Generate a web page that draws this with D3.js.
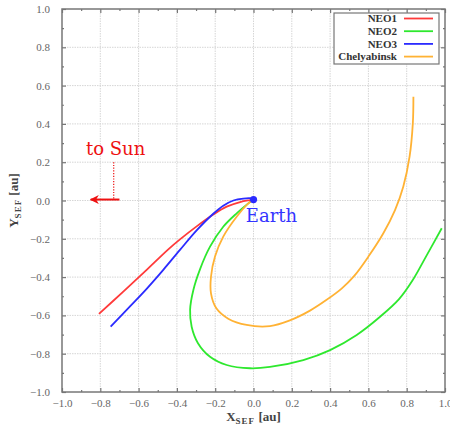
<!DOCTYPE html>
<html>
<head>
<meta charset="utf-8">
<script src="https://cdn.jsdelivr.net/npm/d3@7"></script>
<style>
  body { margin: 0; background: #fff; }
  svg { display: block; }
</style>
</head>
<body>
<div id="chart"></div>
<script>
// series, in au (Sun-Earth fixed frame)
const seriesNames = ['NEO1', 'NEO2', 'NEO3', 'Chelyabinsk'];
const seriesColors = ['#ff3a3a', '#2ee82e', '#2b2bff', '#ffb234'];

const neo1 = [[-0.807,-0.592],[-0.68,-0.476],[-0.558,-0.362],[-0.445,-0.255],[-0.384,-0.203],
  [-0.297,-0.135],[-0.21,-0.073],[-0.14,-0.032],[-0.07,-0.008],[-0.018,0.002],[0,0.005]];
const neo2 = [[0,0.005],[-0.027,-0.015],[-0.088,-0.067],[-0.158,-0.137],[-0.227,-0.241],[-0.279,-0.358],
  [-0.314,-0.467],[-0.331,-0.57],[-0.323,-0.659],[-0.29,-0.745],[-0.227,-0.816],[-0.14,-0.859],
  [-0.018,-0.876],[0.086,-0.869],[0.26,-0.833],[0.4,-0.781],[0.539,-0.702],[0.661,-0.607],
  [0.76,-0.515],[0.83,-0.418],[0.905,-0.285],[0.983,-0.145]];
const neo3 = [[-0.746,-0.659],[-0.645,-0.553],[-0.558,-0.461],[-0.471,-0.362],[-0.384,-0.258],
  [-0.297,-0.156],[-0.21,-0.069],[-0.158,-0.027],[-0.105,0.0],[-0.053,0.01],[-0.01,0.011],[0,0.007]];
const chelyabinsk = [[0,0.005],[-0.027,-0.015],[-0.088,-0.085],[-0.158,-0.189],[-0.201,-0.293],[-0.222,-0.398],
  [-0.222,-0.485],[-0.194,-0.563],[-0.132,-0.617],[-0.036,-0.65],[0.086,-0.656],[0.19,-0.626],
  [0.295,-0.575],[0.38,-0.52],[0.46,-0.46],[0.525,-0.395],[0.6,-0.293],[0.678,-0.171],[0.739,-0.05],
  [0.782,0.072],[0.815,0.229],[0.832,0.403],[0.835,0.542]];
const seriesData = [neo1, neo2, neo3, chelyabinsk];

const majorTicks = [-1.0,-0.8,-0.6,-0.4,-0.2,0.0,0.2,0.4,0.6,0.8,1.0];
const minorTicks = [-0.9,-0.7,-0.5,-0.3,-0.1,0.1,0.3,0.5,0.7,0.9];

const earth = [0, 0.005];
const earthLabel = [-0.04, -0.112];
const sunLabel = [-0.875, 0.238];
const sunArrow = [[-0.70, 0.005], [-0.85, 0.005]];
const sunDotted = [[-0.73, 0.2], [-0.73, 0.005]];

const width = 450, height = 433;
const margin = {top: 9, right: 5, bottom: 41, left: 62};

const svg = d3.select('#chart').append('svg')
  .attr('width', width).attr('height', height);

const x = d3.scaleLinear().domain([-1, 1]).range([margin.left, width - margin.right]);
const y = d3.scaleLinear().domain([-1, 1]).range([height - margin.bottom, margin.top]);

// grid
const grid = svg.append('g').attr('stroke', '#d6d6d6').attr('stroke-width', 1).attr('stroke-dasharray', '1.5,1');
grid.selectAll('line.gx').data(majorTicks.slice(1, -1)).join('line')
  .attr('class', 'gx')
  .attr('x1', d => x(d)).attr('x2', d => x(d)).attr('y1', y(-1)).attr('y2', y(1));
grid.selectAll('line.gy').data(majorTicks.slice(1, -1)).join('line')
  .attr('class', 'gy')
  .attr('y1', d => y(d)).attr('y2', d => y(d)).attr('x1', x(-1)).attr('x2', x(1));

// axes: ticks inward on all four sides
const axisColor = '#777';
function styleAxis(g, labels) {
  g.select('.domain').remove();
  g.selectAll('.tick line').attr('stroke', axisColor).attr('stroke-width', 1.2);
  g.selectAll('.tick text').attr('fill', labels ? '#666' : 'none')
    .style('font-family', 'Liberation Serif').style('font-size', '11px');
}
const fmt = d3.format('.1f');
const axB = svg.append('g').attr('transform', `translate(0,${y(-1)})`)
  .call(d3.axisBottom(x).tickValues(majorTicks).tickFormat(fmt).tickSizeInner(-4).tickPadding(7));
styleAxis(axB, true);
const axBm = svg.append('g').attr('transform', `translate(0,${y(-1)})`)
  .call(d3.axisBottom(x).tickValues(minorTicks).tickFormat('').tickSizeInner(-2));
styleAxis(axBm, false);
const axT = svg.append('g').attr('transform', `translate(0,${y(1)})`)
  .call(d3.axisTop(x).tickValues(majorTicks).tickFormat('').tickSizeInner(-4));
styleAxis(axT, false);
const axTm = svg.append('g').attr('transform', `translate(0,${y(1)})`)
  .call(d3.axisTop(x).tickValues(minorTicks).tickFormat('').tickSizeInner(-2));
styleAxis(axTm, false);
const axL = svg.append('g').attr('transform', `translate(${x(-1)},0)`)
  .call(d3.axisLeft(y).tickValues(majorTicks).tickFormat(fmt).tickSizeInner(-4).tickPadding(12));
styleAxis(axL, true);
const axLm = svg.append('g').attr('transform', `translate(${x(-1)},0)`)
  .call(d3.axisLeft(y).tickValues(minorTicks).tickFormat('').tickSizeInner(-2));
styleAxis(axLm, false);
const axR = svg.append('g').attr('transform', `translate(${x(1)},0)`)
  .call(d3.axisRight(y).tickValues(majorTicks).tickFormat('').tickSizeInner(-4));
styleAxis(axR, false);
const axRm = svg.append('g').attr('transform', `translate(${x(1)},0)`)
  .call(d3.axisRight(y).tickValues(minorTicks).tickFormat('').tickSizeInner(-2));
styleAxis(axRm, false);

// frame
svg.append('rect')
  .attr('x', x(-1)).attr('y', y(1))
  .attr('width', x(1) - x(-1)).attr('height', y(-1) - y(1))
  .attr('fill', 'none').attr('stroke', axisColor).attr('stroke-width', 1.5);

// axis titles
const xTitle = svg.append('text')
  .attr('x', (x(-1) + x(1)) / 2).attr('y', 421)
  .attr('text-anchor', 'middle')
  .style('font-family', 'Liberation Serif').style('font-weight', 'bold').style('font-size', '13px')
  .attr('fill', '#444');
xTitle.append('tspan').text('X');
xTitle.append('tspan').attr('dy', 3).style('font-size', '9px').attr('letter-spacing', 1).text('SEF');
xTitle.append('tspan').attr('dy', -3).text(' [au]');

const yTitle = svg.append('text')
  .attr('transform', `translate(18,${(y(-1) + y(1)) / 2}) rotate(-90)`)
  .attr('text-anchor', 'middle')
  .style('font-family', 'Liberation Serif').style('font-weight', 'bold').style('font-size', '13px')
  .attr('fill', '#444');
yTitle.append('tspan').text('Y');
yTitle.append('tspan').attr('dy', 3).style('font-size', '9px').attr('letter-spacing', 1).text('SEF');
yTitle.append('tspan').attr('dy', -3).text(' [au]');

// trajectories
const line = d3.line().x(d => x(d[0])).y(d => y(d[1])).curve(d3.curveCatmullRom.alpha(0.5));
svg.append('g').selectAll('path.traj').data(seriesData).join('path')
  .attr('class', 'traj')
  .attr('d', line)
  .attr('fill', 'none')
  .attr('stroke', (d, i) => seriesColors[i])
  .attr('stroke-width', 1.8)
  .attr('stroke-linejoin', 'round');

// Earth
svg.append('circle').attr('cx', x(earth[0])).attr('cy', y(earth[1])).attr('r', 3.6).attr('fill', '#2b2bff');
svg.append('text').attr('x', x(earthLabel[0])).attr('y', y(earthLabel[1]))
  .style('font-family', 'DejaVu Serif').style('font-size', '18px').attr('fill', '#3434ff')
  .text('Earth');

// to Sun annotation
svg.append('defs').append('marker')
  .attr('id', 'sunArrow').attr('viewBox', '0 0 10 10').attr('refX', 9).attr('refY', 5)
  .attr('markerWidth', 4.5).attr('markerHeight', 4.5).attr('orient', 'auto')
  .append('path').attr('d', 'M0,0 L10,5 L0,10 L3,5 Z').attr('fill', '#ee1111');
svg.append('line')
  .attr('x1', x(sunArrow[0][0])).attr('y1', y(sunArrow[0][1]))
  .attr('x2', x(sunArrow[1][0])).attr('y2', y(sunArrow[1][1]))
  .attr('stroke', '#ee1111').attr('stroke-width', 2).attr('marker-end', 'url(#sunArrow)');
svg.append('line')
  .attr('x1', x(sunDotted[0][0])).attr('y1', y(sunDotted[0][1]))
  .attr('x2', x(sunDotted[1][0])).attr('y2', y(sunDotted[1][1]))
  .attr('stroke', '#ee1111').attr('stroke-width', 1.2).attr('stroke-dasharray', '1.2,1.5');
svg.append('text').attr('x', x(sunLabel[0])).attr('y', y(sunLabel[1]))
  .style('font-family', 'DejaVu Serif').style('font-size', '18px').attr('fill', '#ee1111')
  .text('to Sun');

// legend
const legend = svg.append('g');
legend.append('rect').attr('x', 334).attr('y', 13).attr('width', 105).attr('height', 51)
  .attr('fill', '#fff').attr('stroke', '#777').attr('stroke-width', 1.2);
const items = legend.selectAll('g.item').data(seriesNames).join('g')
  .attr('class', 'item')
  .attr('transform', (d, i) => `translate(0,${18.5 + i * 12.7})`);
items.append('text').attr('x', 397).attr('dy', '0.35em').attr('text-anchor', 'end')
  .style('font-family', 'Liberation Serif').style('font-weight', 'bold').style('font-size', '11px')
  .attr('fill', '#333').text(d => d);
items.append('line').attr('x1', 404).attr('x2', 433)
  .attr('stroke', (d, i) => seriesColors[i]).attr('stroke-width', 1.8);
</script>
</body>
</html>
